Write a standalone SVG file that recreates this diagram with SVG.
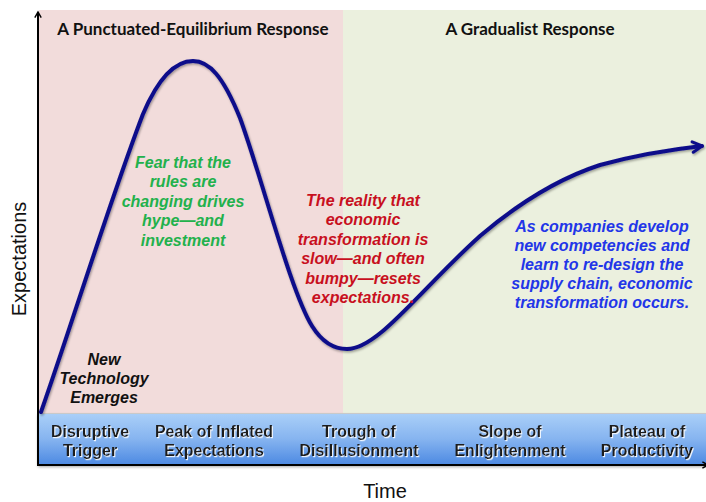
<svg xmlns="http://www.w3.org/2000/svg" width="706" height="502" viewBox="0 0 706 502">
  <defs>
    <linearGradient id="bandFill" x1="0" y1="0" x2="0" y2="1">
      <stop offset="0" stop-color="#abd0f8"/>
      <stop offset="0.5" stop-color="#86b4f0"/>
      <stop offset="1" stop-color="#4c89e2"/>
    </linearGradient>
    <filter id="glow" x="-10%" y="-20%" width="120%" height="140%">
      <feDropShadow dx="1" dy="1.2" stdDeviation="0.6" flood-color="#ffffff" flood-opacity="0.9"/>
    </filter>
    <filter id="curveShadow" x="-5%" y="-5%" width="110%" height="110%">
      <feDropShadow dx="1" dy="1.5" stdDeviation="1.2" flood-color="#000000" flood-opacity="0.35"/>
    </filter>
    <filter id="bandShadow" x="-5%" y="-20%" width="110%" height="150%">
      <feDropShadow dx="0" dy="2" stdDeviation="1.5" flood-color="#000000" flood-opacity="0.35"/>
    </filter>
    <marker id="axisHead" viewBox="0 0 10 10" refX="8" refY="5" markerWidth="8" markerHeight="8" orient="auto" markerUnits="userSpaceOnUse">
      <path d="M1,1 L8,5 L1,9" fill="none" stroke="#000" stroke-width="1.8"/>
    </marker>
    <marker id="curveHead" viewBox="0 0 12 12" refX="10" refY="6" markerWidth="14" markerHeight="14" orient="auto" markerUnits="userSpaceOnUse">
      <path d="M2,1.5 L10,6 L2,10.5" fill="none" stroke="#10108a" stroke-width="2.6" stroke-linecap="round" stroke-linejoin="round"/>
    </marker>
    <style>
      .heading { font-family: Lato, "Liberation Sans", sans-serif; font-weight: bold; font-size: 17px; fill: #111; text-anchor: middle; }
      .note { font-family: "Liberation Sans", Arial, sans-serif; font-weight: bold; font-style: italic; font-size: 16px; text-anchor: middle; }
      .phase { font-family: "Liberation Sans", Arial, sans-serif; font-weight: bold; font-size: 16px; fill: #1c1c1c; text-anchor: middle; }
      .axisLabel { font-family: "Liberation Sans", Arial, sans-serif; font-size: 20px; fill: #111; text-anchor: middle; }
    </style>
  </defs>

  <!-- background panels -->
  <rect x="0" y="0" width="706" height="502" fill="#ffffff"/>
  <g id="panel-punctuated">
    <rect x="39" y="10" width="304" height="404" fill="#f2dcdb"/>
    <text class="heading" x="193" y="35">A Punctuated-Equilibrium Response</text>
  </g>
  <g id="panel-gradualist">
    <rect x="343" y="10" width="363" height="404" fill="#ebf0de"/>
    <text class="heading" x="530" y="35">A Gradualist Response</text>
  </g>

  <!-- phase band along the time axis -->
  <g id="phase-band">
    <rect x="38" y="413" width="668" height="52" fill="url(#bandFill)" filter="url(#bandShadow)"/>
    <line x1="38" y1="413.5" x2="706" y2="413.5" stroke="#c9c9c9" stroke-width="1"/>
  </g>
  <g id="phase-trigger" filter="url(#glow)">
    <text class="phase" x="90" y="437">Disruptive</text>
    <text class="phase" x="90" y="456">Trigger</text>
  </g>
  <g id="phase-peak" filter="url(#glow)">
    <text class="phase" x="214" y="437">Peak of Inflated</text>
    <text class="phase" x="214" y="456">Expectations</text>
  </g>
  <g id="phase-trough" filter="url(#glow)">
    <text class="phase" x="359" y="437">Trough of</text>
    <text class="phase" x="359" y="456">Disillusionment</text>
  </g>
  <g id="phase-slope" filter="url(#glow)">
    <text class="phase" x="510" y="437">Slope of</text>
    <text class="phase" x="510" y="456">Enlightenment</text>
  </g>
  <g id="phase-plateau" filter="url(#glow)">
    <text class="phase" x="647" y="437">Plateau of</text>
    <text class="phase" x="647" y="456">Productivity</text>
  </g>

  <!-- axes -->
  <g id="axes">
    <line x1="38" y1="465" x2="38" y2="12" stroke="#000" stroke-width="2" marker-end="url(#axisHead)"/>
    <line x1="37" y1="465" x2="708" y2="465" stroke="#000" stroke-width="2" marker-end="url(#axisHead)"/>
    <text class="axisLabel" x="385" y="498">Time</text>
    <text class="axisLabel" x="26" y="259" transform="rotate(-90 26 259)">Expectations</text>
  </g>

  <!-- hype curve -->
  <g id="connectors">
    <path d="M41,412 C70,330 110,200 143,114 C160,74 177,61 193,61 C209,61 223,76 240,118 C262,178 290,290 312,326 C322,342 333,349 347,349 C378,349 418,292 480,236 C520,202 560,178 600,165 C640,154 675,149 702,146"
          fill="none" stroke="#10108a" stroke-width="4" stroke-linecap="round" filter="url(#curveShadow)" marker-end="url(#curveHead)"/>
  </g>

  <!-- annotations -->
  <g id="note-hype">
    <text class="note" fill="#22b14c" x="183" y="168">Fear that the</text>
    <text class="note" fill="#22b14c" x="183" y="187">rules are</text>
    <text class="note" fill="#22b14c" x="183" y="207">changing drives</text>
    <text class="note" fill="#22b14c" x="183" y="226">hype—and</text>
    <text class="note" fill="#22b14c" x="183" y="246">investment</text>
  </g>
  <g id="note-reality">
    <text class="note" fill="#c8101e" x="363" y="206">The reality that</text>
    <text class="note" fill="#c8101e" x="363" y="225">economic</text>
    <text class="note" fill="#c8101e" x="363" y="245">transformation is</text>
    <text class="note" fill="#c8101e" x="363" y="264">slow—and often</text>
    <text class="note" fill="#c8101e" x="363" y="284">bumpy—resets</text>
    <text class="note" fill="#c8101e" x="363" y="303">expectations.</text>
  </g>
  <g id="note-gradual">
    <text class="note" fill="#2236e8" x="602" y="232">As companies develop</text>
    <text class="note" fill="#2236e8" x="602" y="251">new competencies and</text>
    <text class="note" fill="#2236e8" x="602" y="270">learn to re-design the</text>
    <text class="note" fill="#2236e8" x="602" y="289">supply chain, economic</text>
    <text class="note" fill="#2236e8" x="602" y="308">transformation occurs.</text>
  </g>
  <g id="note-trigger">
    <text class="note" fill="#111" x="104" y="365">New</text>
    <text class="note" fill="#111" x="104" y="384">Technology</text>
    <text class="note" fill="#111" x="104" y="403">Emerges</text>
  </g>
</svg>
